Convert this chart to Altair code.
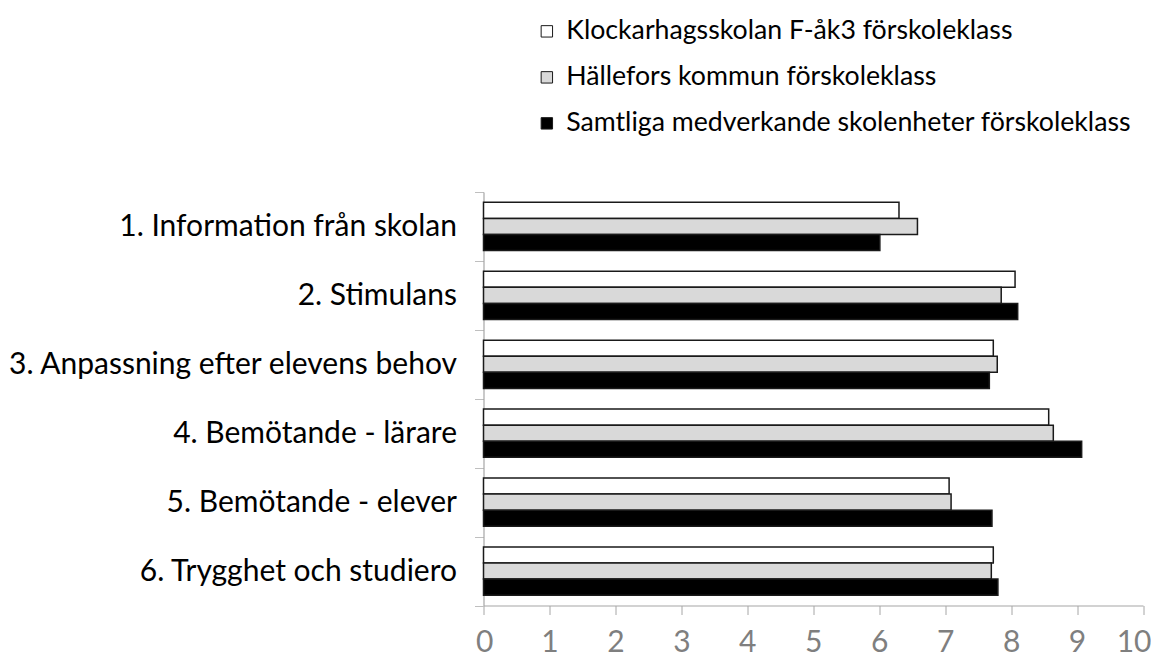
import altair as alt
import pandas as pd

categories = [
    "1. Information från skolan",
    "2. Stimulans",
    "3. Anpassning efter elevens behov",
    "4. Bemötande - lärare",
    "5. Bemötande - elever",
    "6. Trygghet och studiero",
]
series_names = [
    "Klockarhagsskolan F-åk3 förskoleklass",
    "Hällefors kommun förskoleklass",
    "Samtliga medverkande skolenheter förskoleklass",
]
klockarhag = [6.30, 8.06, 7.73, 8.57, 7.06, 7.73]
hallefors = [6.58, 7.85, 7.79, 8.64, 7.09, 7.70]
samtliga = [6.01, 8.10, 7.67, 9.07, 7.71, 7.80]
series_colors = ["#ffffff", "#d9d9d9", "#000000"]
x_ticks = [0, 1, 2, 3, 4, 5, 6, 7, 8, 9, 10]

rows = []
for name, vals in zip(series_names, [klockarhag, hallefors, samtliga]):
    for c, v in zip(categories, vals):
        rows.append({"kategori": c, "serie": name, "varde": v})
df = pd.DataFrame(rows)

FONT = "Lato"

chart = (
    alt.Chart(df)
    .mark_bar(stroke="#1a1a1a", strokeWidth=1.5)
    .encode(
        y=alt.Y(
            "kategori:N",
            sort=categories,
            title=None,
            scale=alt.Scale(paddingInner=0, paddingOuter=0),
            axis=alt.Axis(
                tickBand="extent",
                tickSize=9,
                tickColor="#bfbfbf",
                domainColor="#a6a6a6",
                domainWidth=1.2,
                labelFont=FONT,
                labelFontSize=30,
                labelColor="#000000",
                labelPadding=18,
                labelLimit=600,
            ),
        ),
        yOffset=alt.YOffset(
            "serie:N",
            sort=series_names,
            scale=alt.Scale(paddingInner=0, paddingOuter=0.64),
        ),
        x=alt.X(
            "varde:Q",
            title=None,
            scale=alt.Scale(domain=[0, 10], nice=False),
            axis=alt.Axis(
                values=x_ticks,
                tickSize=9,
                tickColor="#a6a6a6",
                domainColor="#a6a6a6",
                domainWidth=1.2,
                labelFont=FONT,
                labelFontSize=30,
                labelColor="#7f7f7f",
                labelPadding=13,
                labelFlush=True,
                labelFlushOffset=8,
                grid=False,
                format="d",
            ),
        ),
        fill=alt.Fill(
            "serie:N",
            sort=series_names,
            scale=alt.Scale(domain=series_names, range=series_colors),
            legend=alt.Legend(
                title=None,
                orient="none",
                legendX=50,
                legendY=-174,
                direction="vertical",
                symbolType="square",
                symbolSize=130,
                symbolStrokeColor="#1a1a1a",
                symbolStrokeWidth=1,
                labelFont=FONT,
                labelFontSize=26.7,
                labelColor="#000000",
                labelOffset=6,
                rowPadding=18,
                labelLimit=700,
            ),
        ),
    )
    .properties(
        width=659.5,
        height=413.5,
        autosize=alt.AutoSizeParams(type="none"),
        padding={"left": 475.5, "top": 184, "right": 8, "bottom": 60},
    )
    .configure_view(stroke=None)
)

chart.save("out.html", embed_options={"renderer": "svg", "actions": False})
